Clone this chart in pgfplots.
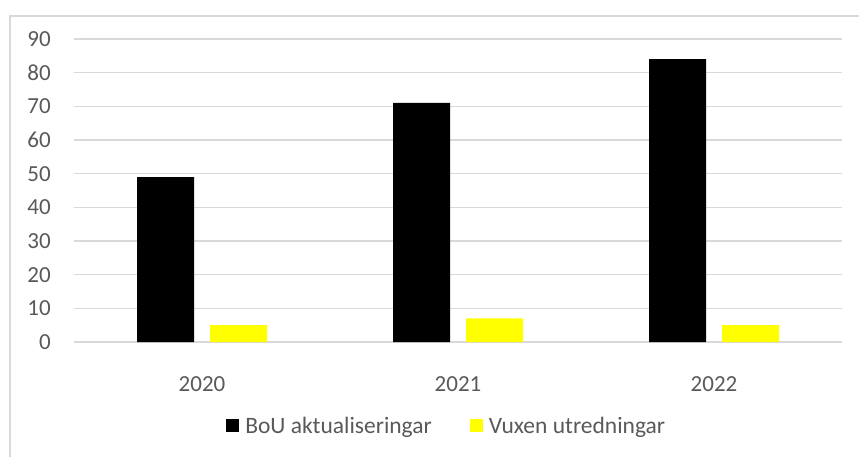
\documentclass[border=0pt]{standalone}
\usepackage{pgfplots}
\pgfplotsset{compat=1.18}
\usepackage{fontspec}
\setmainfont{Carlito}
\definecolor{gridgray}{HTML}{D9D9D9}
\definecolor{txtgray}{HTML}{595959}
\definecolor{ylw}{HTML}{FFFF00}
\begin{document}
\begin{tikzpicture}[x=1pt,y=1pt]
\useasboundingbox (0,0) rectangle (859,456);
\draw[gridgray, line width=1.2pt] (10,-5) rectangle (870,440);
\begin{axis}[
  at={(74pt,114pt)}, anchor=south west,
  scale only axis, width=768pt, height=303pt,
  xmin=-0.5, xmax=2.5, ymin=0, ymax=90,
  ybar=16pt, bar width=57pt,
  ytick={0,10,...,90},
  xtick={0,1,2}, xticklabels={2020,2021,2022},
  axis line style={draw=none},
  major tick style={draw=none},
  ymajorgrids, grid style={gridgray, line width=1.3pt},
  /pgf/number format/assume math mode=true,
  ticklabel style={font=\fontsize{23}{27}\selectfont, text=txtgray},
  yticklabel style={anchor=east, inner sep=0pt, xshift=-23pt},
  xticklabel style={anchor=center, inner sep=0pt, yshift=-38pt},
  legend columns=2,
  legend style={at={(0.484,-0.276)}, anchor=center, draw=none, fill=none,
    font=\fontsize{23.5}{27}\selectfont, text=txtgray,
    /tikz/every even column/.append style={column sep=38pt},
    nodes={inner sep=0pt}},
  legend image code/.code={\fill[#1] (0pt,-6.5pt) rectangle (13pt,6.5pt); \path (19pt,0pt);},
]
\addplot[fill=black, draw=none] coordinates {(0,49) (1,71) (2,84)};
\addplot[fill=ylw, draw=none] coordinates {(0,5) (1,7) (2,5)};
\legend{BoU aktualiseringar, Vuxen utredningar}
\end{axis}
\end{tikzpicture}
\end{document}
